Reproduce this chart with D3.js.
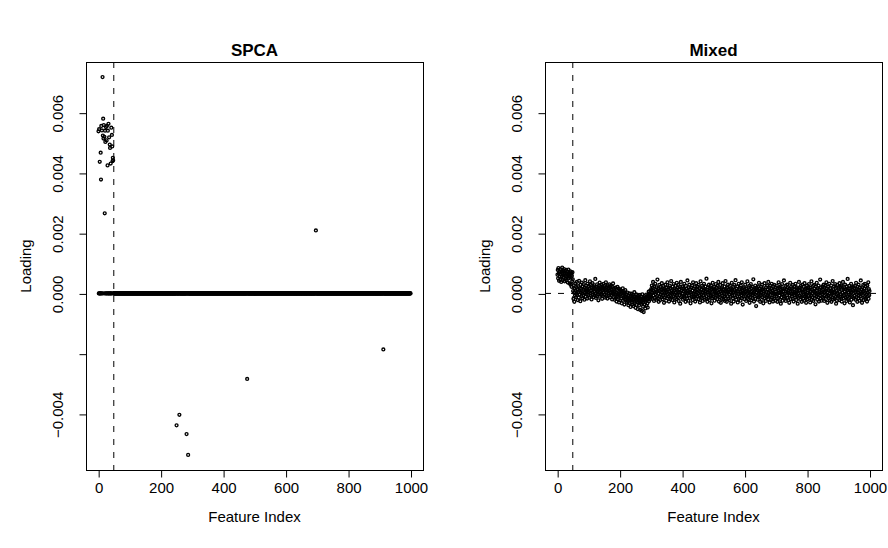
<!DOCTYPE html>
<html>
<head>
<meta charset="utf-8">
<script src="https://cdn.jsdelivr.net/npm/d3@7"></script>
<style>
  html, body { margin: 0; padding: 0; background: #fff; }
  svg { display: block; }
  text { font-family: "Liberation Sans", Arial, Helvetica, sans-serif; fill: #000; }
</style>
</head>
<body>
<svg id="chart" width="888" height="548"></svg>
<script>
// ---------------- DATA ----------------
const nFeatures = 1000;
const cutoff = 50;
const panelTitles = ["SPCA", "Mixed"];
const xTicks = [0, 200, 400, 600, 800, 1000];
const yTicks = [-0.004, -0.002, 0.000, 0.002, 0.004, 0.006];
const yTickLabels = ["\u22120.004", "", "0.000", "0.002", "0.004", "0.006"];

// SPCA: sparse loadings (all other features are exactly 0), values ×1e-4
const spcaNonzeroIndex = [1,3,5,8,9,10,12,14,15,16,17,18,20,21,22,23,25,27,28,30,31,33,35,37,38,40,42,44,45,46,47,48,
                          251,260,283,288,477,697,913];
const spcaNonzeroValue = [53.8,54.5,43.7,46.7,37.8,55.6,54.1,71.8,52.4,58.0,51.4,55.9,52.0,26.6,54.0,50.3,55.2,50.8,55.6,42.5,54.0,56.3,51.8,49.4,48.3,43.1,55.0,52.6,48.8,43.9,45.0,44.2,
                          -43.8,-40.3,-46.7,-53.6,-28.4,20.9,-18.6];

// Mixed: loadings for features 1..1000, values ×1e-5
const mixedValues = [
 62,78,50,84,66,42,74,55,71,46,80,63,38,72,57,86,67,44,76,60,52,81,64,40,69,74,48,59,78,43,65,54,72,36,61,79,50,68,56,33,63,73,29,53,67,22,58,41,70,47,
 8,-18,27,2,-28,15,-7,33,10,-12,21,-1,38,-5,13,-22,24,5,-14,42,9,-4,18,-26,29,3,16,-9,36,0,-16,23,7,-6,31,12,-21,19,2,44,-11,14,26,-3,6,-17,32,10,-5,21,
 5,24,-14,16,40,-1,-8,29,9,-20,18,3,34,-4,13,22,-12,7,27,-6,15,48,0,-15,21,11,-9,30,6,-2,18,-23,25,3,13,36,-11,16,8,-5,22,-1,28,-18,11,19,-8,32,4,14,
 -4,24,9,-14,18,37,3,-10,21,12,-17,27,6,-1,16,-7,30,10,-13,19,2,25,-5,14,7,-20,22,0,33,-3,
 4,-13,15,-21,8,-4,19,-16,1,-27,11,-8,22,-19,-1,-11,16,-30,5,-5,13,-23,-2,9,-17,2,-33,6,-9,17,-24,-6,8,-14,-37,0,-20,11,-11,-3,
 -18,-4,-30,-12,3,-26,-16,-39,-7,-21,0,-33,-13,-24,-45,-9,-19,-1,-29,-15,-36,-5,-22,-42,-11,-18,4,-27,-32,-10,-48,-16,-3,-24,-38,-13,-21,-52,-8,-29,
 -15,-40,-22,-6,-30,-55,-18,-11,-34,-25,-58,-20,-3,-31,-44,-16,-62,-24,-9,-37,-19,-50,-13,-28,-4,-41,-22,-10,-33,-47,-6,-17,6,-26,-12,-1,-20,9,-14,-4,
 14,-12,26,1,-18,19,38,-7,8,-25,23,4,-15,32,-2,11,-21,20,5,-9,46,-16,16,-1,-28,10,28,-10,7,-22,22,-4,13,-13,34,2,-19,17,-6,25,8,-31,14,1,-12,29,-7,10,-24,19,
 5,-16,37,-2,13,-10,20,-27,7,26,-6,16,-18,2,41,-13,11,-1,-22,23,4,-9,31,10,-30,17,-4,-15,25,1,14,-19,35,-7,8,19,-12,28,-25,5,13,-6,22,-34,2,38,-13,10,16,-9,
 23,-1,-21,17,7,-10,32,-16,11,-2,-28,25,4,-7,16,-18,43,1,8,-24,20,-6,29,5,-15,13,-33,2,19,-4,-12,26,10,-22,37,-1,-13,17,-9,23,7,-27,11,-6,34,-18,4,14,-10,22,
 1,-19,28,8,-7,17,-30,5,40,-12,13,-2,-16,25,2,-25,20,-6,10,32,-13,14,-21,-1,23,7,-9,49,-18,11,-28,4,19,-4,-15,29,1,-22,16,8,-10,26,-7,-33,13,5,-16,35,-2,17,
 -12,22,10,-24,14,-1,-15,31,4,-6,19,-19,8,25,-9,38,2,-27,13,-4,-13,28,7,-31,16,1,-18,20,-7,34,5,-21,11,-2,-10,23,-25,10,41,-15,14,-1,-28,19,4,-9,29,-18,7,13,
 -4,-22,25,5,-10,17,-34,10,35,-7,13,1,-16,22,-27,4,28,-6,11,-13,44,2,-21,16,7,-9,23,-30,8,-2,32,-18,14,-12,19,-1,-24,26,5,-6,37,-15,10,-37,17,1,-10,20,-19,13,
 4,29,-9,8,-25,16,-2,-15,40,2,-19,20,7,-7,25,-31,11,-4,-12,31,5,-22,17,-1,-16,22,-6,47,1,-27,13,8,-10,26,-18,14,-42,4,19,-7,10,-21,23,-2,-13,35,7,-9,16,-28,
 10,-6,22,2,-22,29,-12,13,-1,-33,17,7,-9,34,-16,11,-2,-25,20,4,-13,26,-7,14,-19,38,1,-10,19,-30,8,25,-6,5,-21,16,32,-15,2,11,-27,23,-1,-18,28,-9,13,-4,-24,20,
 7,-10,26,-2,-28,16,10,-16,37,1,-7,19,-21,5,23,-34,11,2,-13,31,-4,-24,14,8,-9,43,-18,17,-1,-12,25,-25,7,13,-6,29,-15,4,20,-22,10,1,-31,16,-7,35,5,-19,22,-2,
 -9,17,8,-18,28,-1,-27,13,4,-6,23,-13,32,1,-22,10,20,-10,7,-34,16,-2,-15,38,11,-7,19,-21,2,25,-12,8,-28,14,29,-9,5,-18,22,-4,-24,34,7,-10,13,-1,-31,17,-13,26,
 2,-19,20,10,-9,31,-16,14,-2,-30,19,5,-7,40,-22,11,1,-12,25,-25,8,28,-6,16,-15,4,-36,22,-1,-10,35,10,-21,17,-4,-13,26,-27,13,7,-7,46,-18,2,20,-24,11,-2,-12,23,
 13,-15,29,1,-25,19,5,-6,25,-19,8,37,-10,16,-31,4,22,-7,11,-16,32,-2,-22,17,7,-9,26,-28,10,-1,-13,41,-21,14,2,-6,23,-18,5,31,-12,19,-34,8,-2,-24,28,1,-10,20,
 -7,16,-22,34,5,-12,22,-2,-18,26,-27,11,2,-9,38,-16,14,-6,20,-33,7,29,-13,13,-1,-25,23,-10,10,48,-19,4,17,-15,25,-4,-30,16,8,-7,32,-21,5,19,-12,11,-39,22,1,-16,
 17,-9,25,4,-21,10,35,-13,14,-2,-28,22,2,-16,29,-7,11,-24,19,7,-10,43,-18,13,-1,-31,20,5,-6,28,-22,8,16,-12,32,1,-19,23,-15,10,-2,-27,26,4,-9,37,-18,14,-6,8
];

// ---------------- BUILD SERIES ----------------
const spcaSeries = d3.range(1, nFeatures + 1).map(i => {
  const k = spcaNonzeroIndex.indexOf(i);
  return { i, v: k >= 0 ? spcaNonzeroValue[k] * 1e-4 : 0 };
});
const mixedSeries = mixedValues.map((v, k) => ({ i: k + 1, v: v * 1e-5 }));

// ---------------- LAYOUT ----------------
const svg = d3.select("#chart");
const box = { top: 62, bottom: 470, width: 337 };
const panelLeft = [86, 545];

// R-style 4% padding
function pad(ext) { const d = ext[1] - ext[0]; return [ext[0] - 0.04 * d, ext[1] + 0.04 * d]; }
const xDom = pad([1, nFeatures]);
const yDom = pad(d3.extent(spcaSeries, d => d.v));

const fontSize = 15;

function drawPanel(p, series, title, hLine) {
  const L = panelLeft[p], R = L + box.width;
  const x = d3.scaleLinear().domain(xDom).range([L, R]);
  const y = d3.scaleLinear().domain(yDom).range([box.bottom, box.top]);
  const g = svg.append("g");

  // points
  g.append("g").selectAll("circle").data(series).join("circle")
    .attr("cx", d => x(d.i)).attr("cy", d => y(d.v)).attr("r", 1.45)
    .attr("fill", "none").attr("stroke", "#000").attr("stroke-width", 1.35);

  // reference lines
  g.append("line")
    .attr("x1", x(cutoff)).attr("x2", x(cutoff))
    .attr("y1", box.top).attr("y2", box.bottom)
    .attr("stroke", "#000").attr("stroke-width", 1).attr("stroke-dasharray", "6,7");
  if (hLine) {
    g.append("line")
      .attr("x1", L).attr("x2", R)
      .attr("y1", y(0)).attr("y2", y(0))
      .attr("stroke", "#000").attr("stroke-width", 1).attr("stroke-dasharray", "6,7");
  }

  // box
  g.append("rect").attr("x", L + 0.5).attr("y", box.top + 0.5)
    .attr("width", box.width).attr("height", box.bottom - box.top)
    .attr("fill", "none").attr("stroke", "#000").attr("stroke-width", 1);

  // x axis
  const xAxis = d3.axisBottom(x).tickValues(xTicks).tickSize(7).tickPadding(5).tickFormat(d3.format("d"));
  const gx = g.append("g").attr("transform", `translate(0.5,${box.bottom + 0.5})`).call(xAxis);
  gx.select(".domain").attr("d", `M${x(xTicks[0])},0H${x(xTicks[xTicks.length - 1])}`);
  gx.selectAll("text").attr("font-size", fontSize).attr("font-family", "Liberation Sans, Arial, sans-serif");

  // y axis
  const yAxis = d3.axisLeft(y).tickValues(yTicks).tickSize(7)
    .tickFormat((d, k) => yTickLabels[k]);
  const gy = g.append("g").attr("transform", `translate(${L + 0.5},0.5)`).call(yAxis);
  gy.select(".domain").attr("d", `M0,${y(yTicks[0])}V${y(yTicks[yTicks.length - 1])}`);
  gy.selectAll(".tick text")
    .attr("font-size", fontSize).attr("font-family", "Liberation Sans, Arial, sans-serif")
    .attr("text-anchor", "middle").attr("x", 0).attr("dy", null)
    .attr("transform", "translate(-29,0) rotate(-90)")
    .attr("dominant-baseline", "central");

  // titles
  g.append("text").attr("x", (L + R) / 2).attr("y", 56)
    .attr("text-anchor", "middle").attr("font-size", 17).attr("font-weight", "bold").text(title);
  g.append("text").attr("x", (L + R) / 2).attr("y", 522)
    .attr("text-anchor", "middle").attr("font-size", fontSize).text("Feature Index");
  g.append("text").attr("transform", `translate(${L - 61},${(box.top + box.bottom) / 2}) rotate(-90)`)
    .attr("text-anchor", "middle").attr("dominant-baseline", "central")
    .attr("font-size", fontSize).text("Loading");
}

drawPanel(0, spcaSeries, panelTitles[0], false);
drawPanel(1, mixedSeries, panelTitles[1], true);
</script>
</body>
</html>
